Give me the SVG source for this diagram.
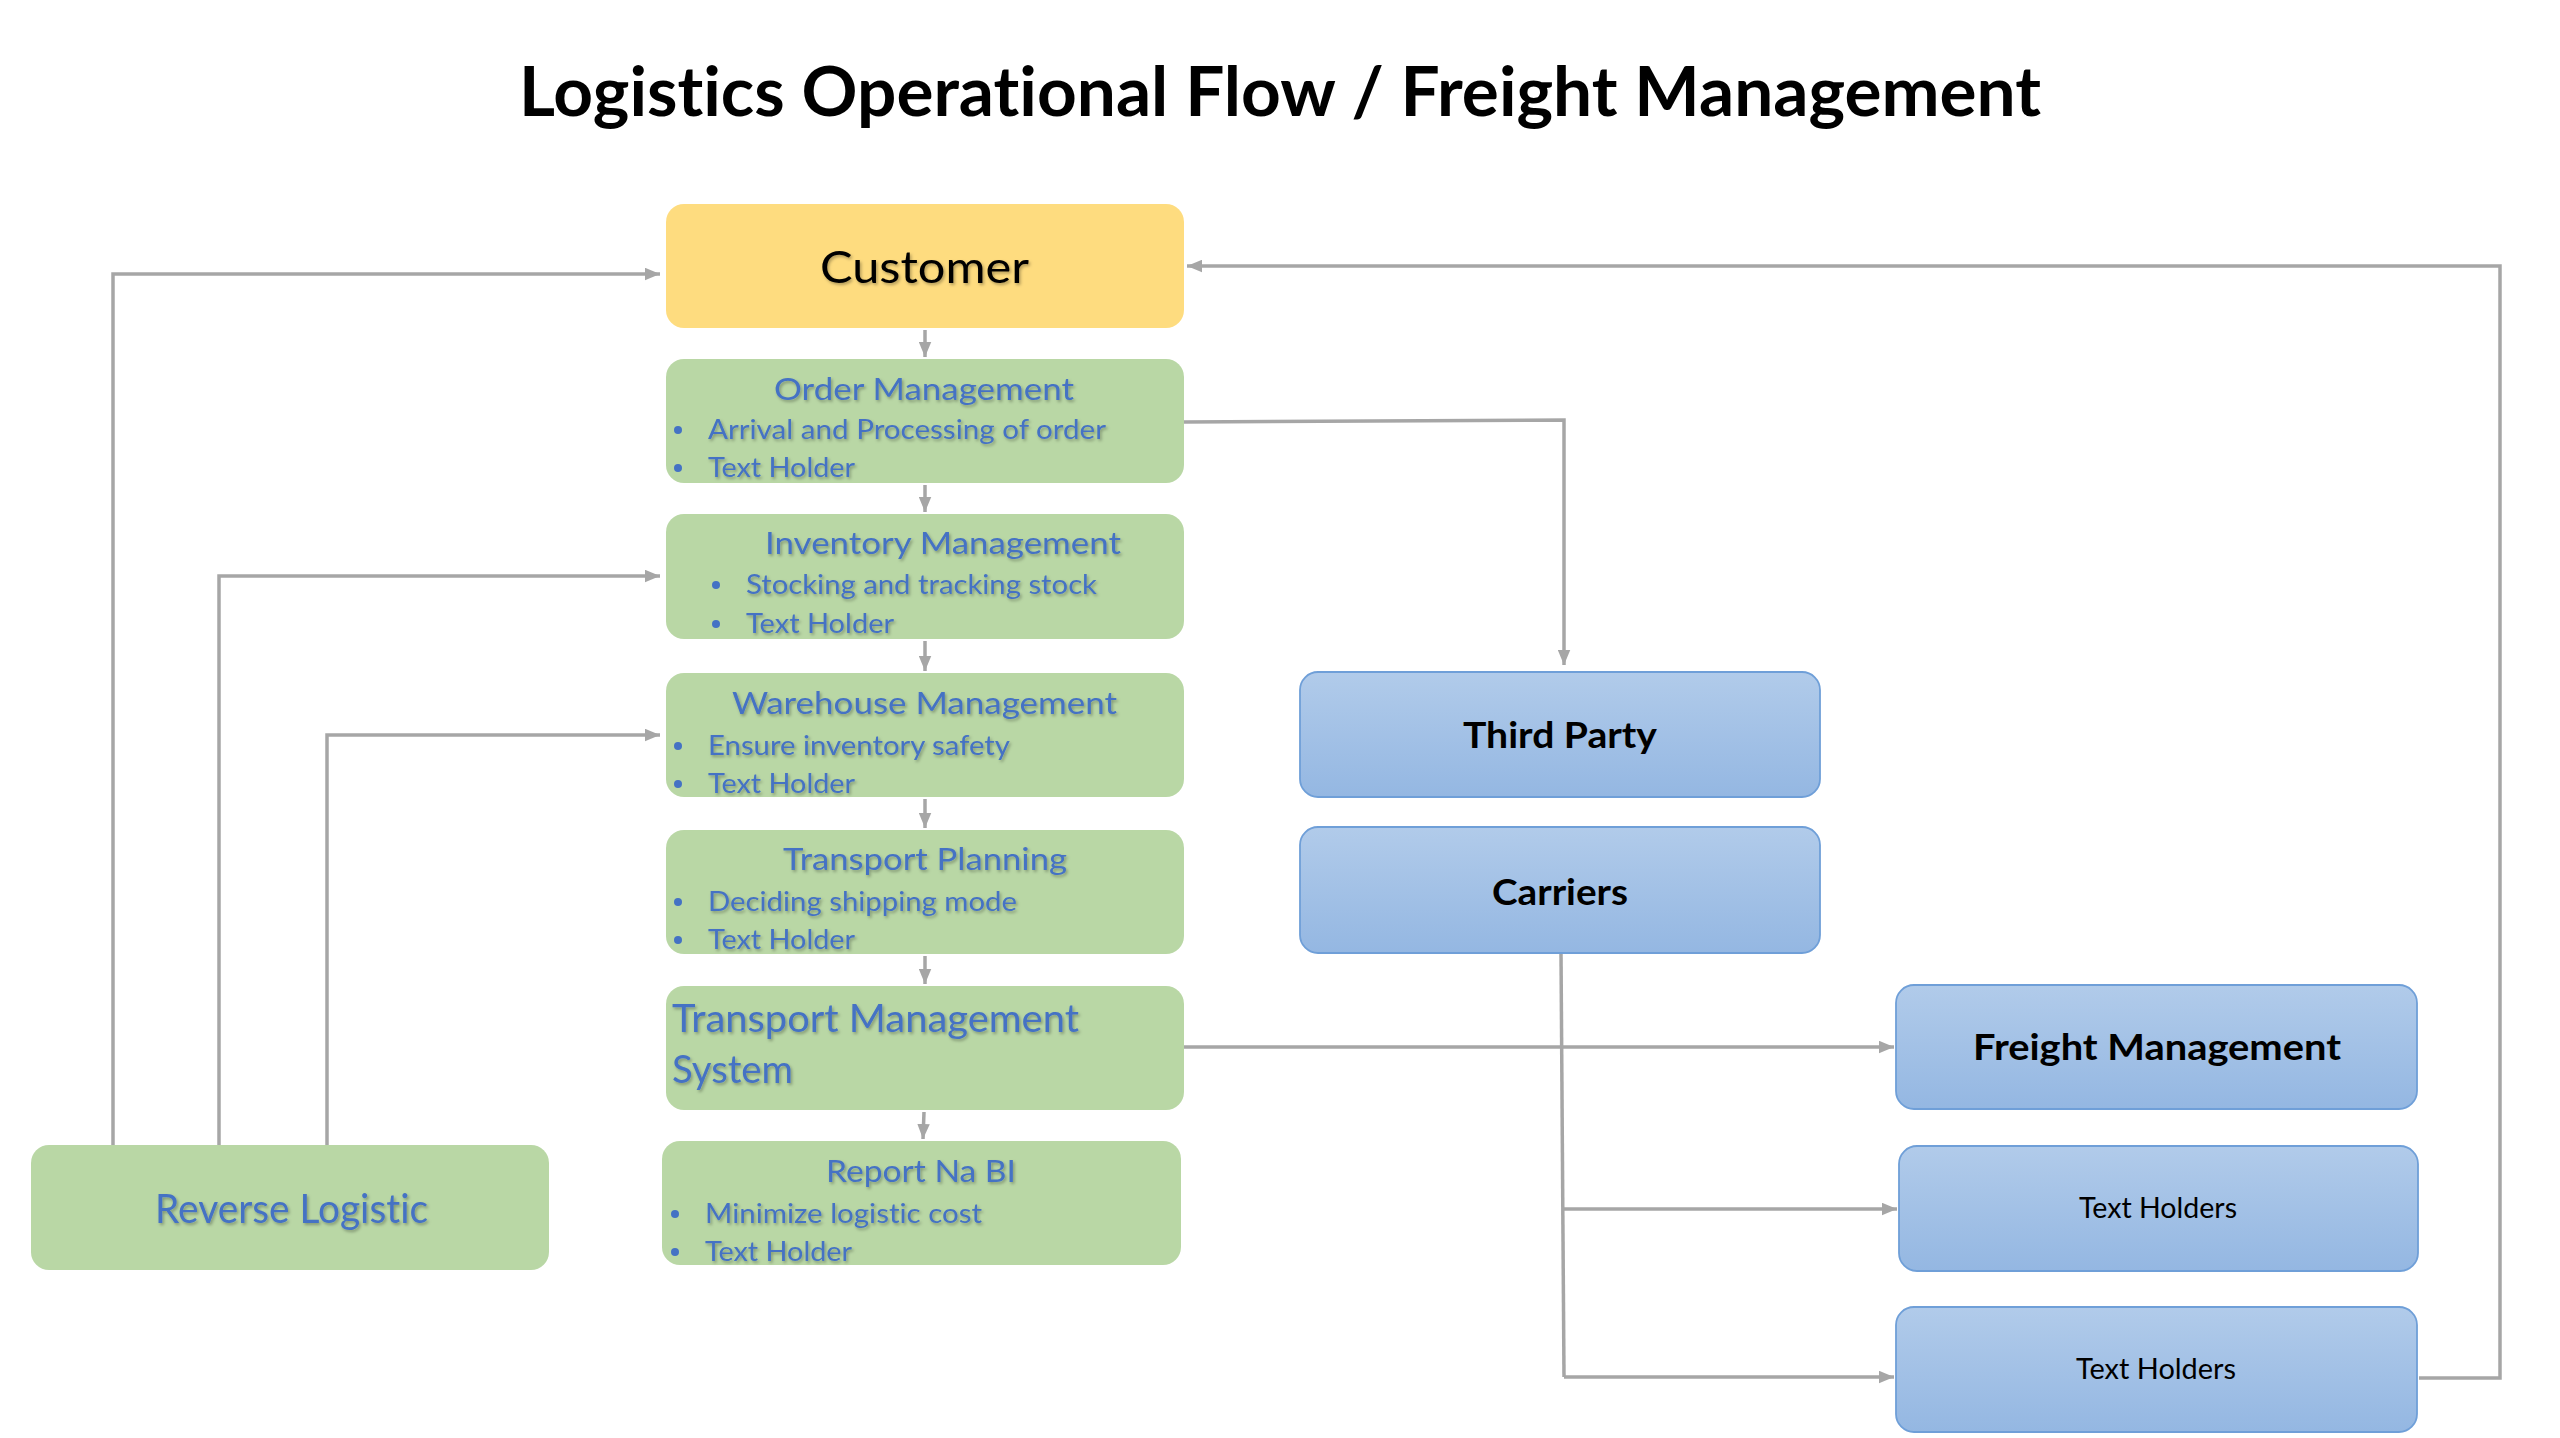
<svg xmlns="http://www.w3.org/2000/svg" width="2560" height="1438" viewBox="0 0 2560 1438">
<defs>
<linearGradient id="blueGrad" x1="0" y1="0" x2="0" y2="1">
<stop offset="0" stop-color="#B1CBEA"/>
<stop offset="1" stop-color="#94B7E2"/>
</linearGradient>
<filter id="tshadow" x="-10%" y="-30%" width="120%" height="160%">
<feDropShadow dx="1.5" dy="2" stdDeviation="1.5" flood-color="#000" flood-opacity="0.3"/>
</filter>
<marker id="arr" viewBox="0 0 12 10" markerUnits="userSpaceOnUse" markerWidth="15" markerHeight="13" refX="12" refY="5" orient="auto">
<path d="M0,0 L12,5 L0,10 z" fill="#A6A6A6"/>
</marker>
</defs>
<style>
text{font-variant-ligatures:none;font-feature-settings:"liga" 0;}
.green{fill:#B9D7A5;}
.yellow{fill:#FEDC7F;}
.blue{fill:url(#blueGrad);stroke:#6F9FD8;stroke-width:1.8;}
.conn{fill:none;stroke:#A6A6A6;stroke-width:3.5;marker-end:url(#arr);}
.connplain{fill:none;stroke:#A6A6A6;stroke-width:3.5;}
.gt{font-family:Lato,"Liberation Sans",sans-serif;fill:#4472C4;filter:url(#tshadow);}
.head{font-size:31px;}
.item{font-size:27px;}
.dot{fill:#4472C4;}
.bt{font-family:Lato,"Liberation Sans",sans-serif;font-weight:bold;font-size:37px;fill:#000;}
.th{font-family:Lato,"Liberation Sans",sans-serif;font-size:28px;fill:#000;}
</style>
<rect width="2560" height="1438" fill="#FFFFFF"/>
<text x="1280" y="116" text-anchor="middle" textLength="1522" lengthAdjust="spacingAndGlyphs" font-family="Lato,'Liberation Sans',sans-serif" font-weight="bold" font-size="68" fill="#000">Logistics Operational Flow / Freight Management</text>

<g id="connectors">
<path class="conn" d="M925,330 V357"/>
<path class="conn" d="M925,485 V512"/>
<path class="conn" d="M925,641 V671"/>
<path class="conn" d="M925,799 V828"/>
<path class="conn" d="M925,956 V984"/>
<path class="conn" d="M924,1112 L923,1139"/>
<path class="conn" d="M1184,422 L1564,420 V665"/>
<path class="conn" d="M113,1145 V274 H660"/>
<path class="conn" d="M219,1145 V576 H660"/>
<path class="conn" d="M327,1145 V735 H660"/>
<path class="conn" d="M1184,1047 H1894"/>
<path class="connplain" d="M1561,953 L1564,1377"/>
<path class="conn" d="M1563,1209 H1897"/>
<path class="conn" d="M1564,1377 H1894"/>
<path class="conn" d="M2419,1378 H2500 V266 H1187"/>
</g>

<g id="customer">
<rect class="yellow" x="666" y="204" width="518" height="124" rx="18"/>
<text x="924.5" y="283" text-anchor="middle" textLength="209" lengthAdjust="spacingAndGlyphs" font-family="Lato,'Liberation Sans',sans-serif" font-size="44" fill="#000" filter="url(#tshadow)">Customer</text>
</g>

<g id="order-management">
<rect class="green" x="666" y="359" width="518" height="124" rx="18"/>
<text class="gt head" x="924" y="400" text-anchor="middle" textLength="300" lengthAdjust="spacingAndGlyphs">Order Management</text>
<circle class="dot" cx="678" cy="430" r="4"/>
<text class="gt item" x="708" y="439" textLength="398" lengthAdjust="spacingAndGlyphs">Arrival and Processing of order</text>
<circle class="dot" cx="678" cy="468" r="4"/>
<text class="gt item" x="708" y="477" textLength="147" lengthAdjust="spacingAndGlyphs">Text Holder</text>
</g>

<g id="inventory-management">
<rect class="green" x="666" y="514" width="518" height="125" rx="18"/>
<text class="gt head" x="943" y="554" text-anchor="middle" textLength="356" lengthAdjust="spacingAndGlyphs">Inventory Management</text>
<circle class="dot" cx="716" cy="585" r="4"/>
<text class="gt item" x="746" y="594" textLength="351" lengthAdjust="spacingAndGlyphs">Stocking and tracking stock</text>
<circle class="dot" cx="716" cy="624" r="4"/>
<text class="gt item" x="746" y="633" textLength="148" lengthAdjust="spacingAndGlyphs">Text Holder</text>
</g>

<g id="warehouse-management">
<rect class="green" x="666" y="673" width="518" height="124" rx="18"/>
<text class="gt head" x="924.5" y="714" text-anchor="middle" textLength="385" lengthAdjust="spacingAndGlyphs">Warehouse Management</text>
<circle class="dot" cx="678" cy="746" r="4"/>
<text class="gt item" x="708" y="755" textLength="302" lengthAdjust="spacingAndGlyphs">Ensure inventory safety</text>
<circle class="dot" cx="678" cy="784" r="4"/>
<text class="gt item" x="708" y="793" textLength="147" lengthAdjust="spacingAndGlyphs">Text Holder</text>
</g>

<g id="transport-planning">
<rect class="green" x="666" y="830" width="518" height="124" rx="18"/>
<text class="gt head" x="925" y="870" text-anchor="middle" textLength="284" lengthAdjust="spacingAndGlyphs">Transport Planning</text>
<circle class="dot" cx="678" cy="902" r="4"/>
<text class="gt item" x="708" y="911" textLength="309" lengthAdjust="spacingAndGlyphs">Deciding shipping mode</text>
<circle class="dot" cx="678" cy="940" r="4"/>
<text class="gt item" x="708" y="949" textLength="147" lengthAdjust="spacingAndGlyphs">Text Holder</text>
</g>

<g id="transport-management-system">
<rect class="green" x="666" y="986" width="518" height="124" rx="18"/>
<text class="gt" x="672" y="1032" font-size="39" textLength="407" lengthAdjust="spacingAndGlyphs">Transport Management</text>
<text class="gt" x="672" y="1083" font-size="39" textLength="121" lengthAdjust="spacingAndGlyphs">System</text>
</g>

<g id="report-na-bi">
<rect class="green" x="662" y="1141" width="519" height="124" rx="18"/>
<text class="gt head" x="921" y="1182" text-anchor="middle" textLength="190" lengthAdjust="spacingAndGlyphs">Report Na BI</text>
<circle class="dot" cx="675" cy="1214" r="4"/>
<text class="gt item" x="705" y="1223" textLength="277" lengthAdjust="spacingAndGlyphs">Minimize logistic cost</text>
<circle class="dot" cx="675" cy="1252" r="4"/>
<text class="gt item" x="705" y="1261" textLength="147" lengthAdjust="spacingAndGlyphs">Text Holder</text>
</g>

<g id="reverse-logistic">
<rect class="green" x="31" y="1145" width="518" height="125" rx="18"/>
<text class="gt" x="291.5" y="1223" font-size="40" text-anchor="middle" textLength="273" lengthAdjust="spacingAndGlyphs">Reverse Logistic</text>
</g>

<g id="third-party">
<rect class="blue" x="1300" y="672" width="520" height="125" rx="18"/>
<text class="bt" x="1560" y="748" text-anchor="middle" textLength="194" lengthAdjust="spacingAndGlyphs">Third Party</text>
</g>

<g id="carriers">
<rect class="blue" x="1300" y="827" width="520" height="126" rx="18"/>
<text class="bt" x="1560" y="905" text-anchor="middle" textLength="136" lengthAdjust="spacingAndGlyphs">Carriers</text>
</g>

<g id="freight-management">
<rect class="blue" x="1896" y="985" width="521" height="124" rx="18"/>
<text class="bt" x="2157" y="1060" text-anchor="middle" textLength="368" lengthAdjust="spacingAndGlyphs">Freight Management</text>
</g>

<g id="text-holders-1">
<rect class="blue" x="1899" y="1146" width="519" height="125" rx="18"/>
<text class="th" x="2158" y="1218" text-anchor="middle" textLength="158" lengthAdjust="spacingAndGlyphs">Text Holders</text>
</g>

<g id="text-holders-2">
<rect class="blue" x="1896" y="1307" width="521" height="125" rx="18"/>
<text class="th" x="2156" y="1379" text-anchor="middle" textLength="160" lengthAdjust="spacingAndGlyphs">Text Holders</text>
</g>
</svg>
